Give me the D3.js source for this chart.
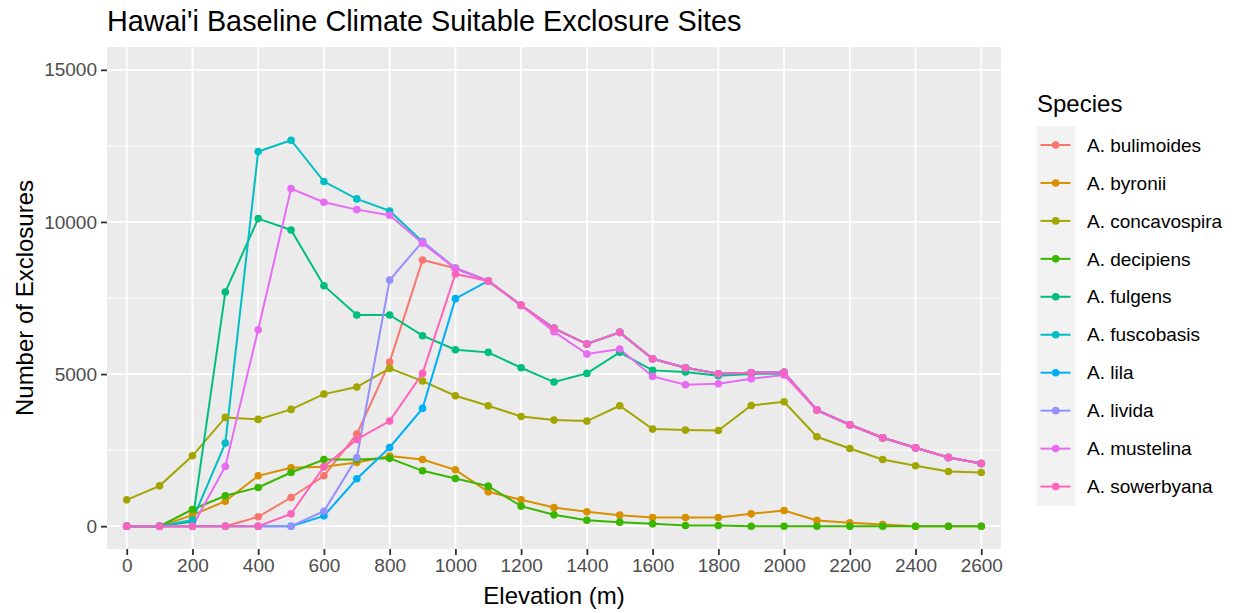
<!DOCTYPE html>
<html>
<head>
<meta charset="utf-8">
<script src="https://cdn.jsdelivr.net/npm/d3@7"></script>
<style>
  body { margin: 0; background: #fff; }
  text { font-family: "Liberation Sans", Arial, sans-serif; }
</style>
</head>
<body>
<svg id="chart" width="1238" height="613"></svg>
<script>
// elevation bands (m)
const elevation = [0,100,200,300,400,500,600,700,800,900,1000,1100,1200,1300,1400,1500,1600,1700,1800,1900,2000,2100,2200,2300,2400,2500,2600]

const species = ['A. bulimoides','A. byronii','A. concavospira','A. decipiens','A. fulgens','A. fuscobasis','A. lila','A. livida','A. mustelina','A. sowerbyana']
const colors = ['#F8766D','#D89000','#A3A500','#39B600','#00BF7D','#00BFC4','#00B0F6','#9590FF','#E76BF3','#FF62BC']

// number of exclosures
const bulimoides   = [0,0,0,0,307,943,1656,3026,5395,8750,8476,8059,7259,6502,5987,6371,5504,5208,5011,5044,5055,3816,3333,2906,2577,2259,2061]
const byronii      = [0,0,362,822,1656,1919,1950,2094,2303,2193,1853,1129,866,614,471,362,285,285,285,406,515,186,110,55,0,0,0]
const concavospira = [865,1326,2313,3575,3509,3838,4342,4572,5186,4770,4287,3958,3607,3487,3454,3958,3191,3158,3147,3969,4090,2939,2555,2193,1985,1798,1765]
const decipiens    = [0,0,548,998,1272,1765,2193,2193,2230,1820,1568,1316,658,373,197,132,77,22,22,0,0,0,0,0,0,0,0]
const fulgens      = [0,0,150,7697,10109,9737,7905,6941,6941,6261,5800,5713,5208,4737,5022,5713,5121,5066,4945,5000,5022,3816,3333,2906,2577,2259,2061]
const fuscobasis   = [0,0,200,2730,12313,12687,11327,10757,10362,9352,8476,8059,7259,6502,5987,6371,5504,5208,5011,5044,5055,3816,3333,2906,2577,2259,2061]
const lila         = [0,0,0,0,0,0,340,1557,2588,3871,7478,8059,7259,6502,5987,6371,5504,5208,5011,5044,5055,3816,3333,2906,2577,2259,2061]
const livida       = [0,0,0,0,0,0,493,2248,8092,9352,8476,8059,7259,6502,5987,6371,5504,5208,5011,5044,5055,3816,3333,2906,2577,2259,2061]
const mustelina    = [0,0,0,1963,6458,11096,10648,10405,10219,9298,8476,8059,7259,6393,5658,5822,4923,4649,4682,4846,4967,3816,3333,2906,2577,2259,2061]
const sowerbyana   = [0,0,0,0,0,406,1952,2851,3454,5022,8289,8059,7259,6502,5987,6371,5504,5208,5011,5044,5055,3816,3333,2906,2577,2259,2061]

const seriesValues = [bulimoides, byronii, concavospira, decipiens, fulgens, fuscobasis, lila, livida, mustelina, sowerbyana]

const xTicks = [0,200,400,600,800,1000,1200,1400,1600,1800,2000,2200,2400,2600]
const yTicks = [0,5000,10000,15000]
const yMinor = [2500,7500,12500]

const svg = d3.select('#chart')
const panel = { left: 107, right: 1001, top: 47, bottom: 549 }

let x = d3.scaleLinear().domain([-60, 2660]).range([panel.left, panel.right])
let y = d3.scaleLinear().domain([-750, 15750]).range([panel.bottom, panel.top])

// panel background
svg.append('rect')
    .attr('x', panel.left).attr('y', panel.top)
    .attr('width', panel.right - panel.left)
    .attr('height', panel.bottom - panel.top)
    .attr('fill', '#EBEBEB')

let grid = svg.append('g')
grid.selectAll('.minor').data(yMinor).enter().append('line')
    .attr('x1', panel.left).attr('x2', panel.right)
    .attr('y1', d => y(d)).attr('y2', d => y(d))
    .attr('stroke', '#fff').attr('stroke-width', 0.9)
grid.selectAll('.hmajor').data(yTicks).enter().append('line')
    .attr('x1', panel.left).attr('x2', panel.right)
    .attr('y1', d => y(d)).attr('y2', d => y(d))
    .attr('stroke', '#fff').attr('stroke-width', 1.8)
grid.selectAll('.vmajor').data(xTicks).enter().append('line')
    .attr('y1', panel.top).attr('y2', panel.bottom)
    .attr('x1', d => x(d)).attr('x2', d => x(d))
    .attr('stroke', '#fff').attr('stroke-width', 1.8)

// axes, plain integers without thousands separators
let xAxis = svg.append('g')
    .attr('transform', 'translate(0,' + panel.bottom + ')')
    .call(d3.axisBottom(x).tickValues(xTicks).tickFormat(d3.format('d')).tickSize(6).tickPadding(4).tickSizeOuter(0))
let yAxis = svg.append('g')
    .attr('transform', 'translate(' + panel.left + ',0)')
    .call(d3.axisLeft(y).tickValues(yTicks).tickFormat(d3.format('d')).tickSize(6).tickPadding(4).tickSizeOuter(0))

;[xAxis, yAxis].forEach(a => {
    a.select('.domain').remove()
    a.selectAll('line').attr('stroke', '#333').attr('stroke-width', 1.8)
    a.selectAll('text').attr('fill', '#4D4D4D').style('font-size', '19px')
        .style('font-family', '"Liberation Sans", Arial, sans-serif')
})

// lines first, then points (like geom_line + geom_point)
let line = d3.line()
    .x((d, i) => x(elevation[i]))
    .y(d => y(d))

let lines = svg.append('g')
seriesValues.forEach((vals, k) => {
    lines.append('path')
        .datum(vals)
        .attr('d', line)
        .attr('fill', 'none')
        .attr('stroke', colors[k])
        .attr('stroke-width', 2)
})
let pts = svg.append('g')
seriesValues.forEach((vals, k) => {
    pts.selectAll('.p' + k).data(vals).enter().append('circle')
        .attr('cx', (d, i) => x(elevation[i]))
        .attr('cy', d => y(d))
        .attr('r', 3.8)
        .attr('fill', colors[k])
})

// titles
svg.append('text')
    .attr('x', panel.left).attr('y', 31)
    .style('font-size', '28.8px')
    .text("Hawai'i Baseline Climate Suitable Exclosure Sites")

svg.append('text')
    .attr('x', (panel.left + panel.right) / 2).attr('y', 604)
    .attr('text-anchor', 'middle')
    .style('font-size', '24px')
    .text('Elevation (m)')

svg.append('text')
    .attr('transform', 'translate(33,' + (panel.top + panel.bottom) / 2 + ') rotate(-90)')
    .attr('text-anchor', 'middle')
    .style('font-size', '24px')
    .text('Number of Exclosures')

// legend
let legend = svg.append('g')
legend.append('text')
    .attr('x', 1037).attr('y', 112)
    .style('font-size', '24px')
    .text('Species')

species.forEach((name, k) => {
    let cy = 145 + k * 37.95
    legend.append('rect')
        .attr('x', 1037).attr('y', cy - 19)
        .attr('width', 38).attr('height', 38)
        .attr('fill', '#F2F2F2')
    legend.append('line')
        .attr('x1', 1040.5).attr('x2', 1070.5)
        .attr('y1', cy).attr('y2', cy)
        .attr('stroke', colors[k]).attr('stroke-width', 2)
    legend.append('circle')
        .attr('cx', 1055.7).attr('cy', cy).attr('r', 3.8)
        .attr('fill', colors[k])
    legend.append('text')
        .attr('x', 1087).attr('y', cy).attr('dy', '0.35em')
        .style('font-size', '19px')
        .text(name)
})
</script>
</body>
</html>
